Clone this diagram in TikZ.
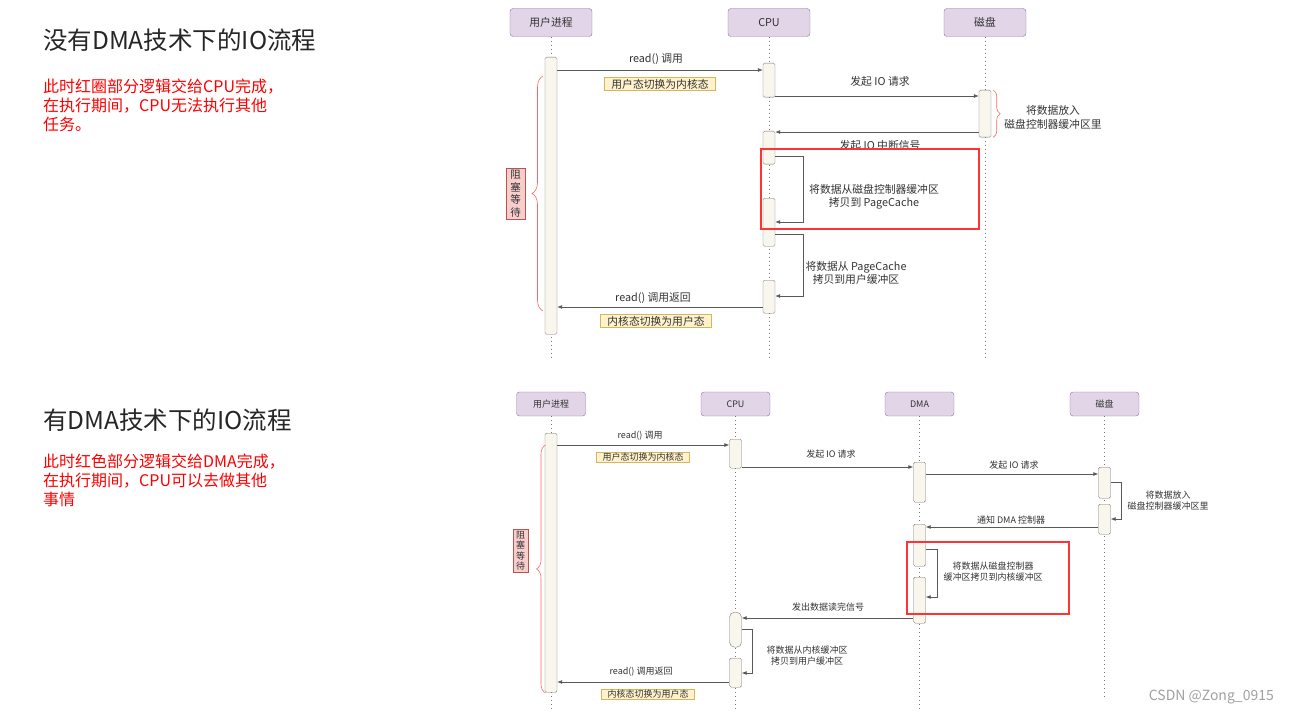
\documentclass[tikz,border=0pt]{standalone}
\usepackage{fontspec}
\setmainfont{Noto Sans CJK SC}
\usetikzlibrary{positioning, arrows.meta, decorations.pathreplacing}

\definecolor{hdrfill}{HTML}{E1D5E7}
\definecolor{hdrline}{HTML}{9673A6}
\definecolor{barfill}{HTML}{F9F7ED}
\definecolor{barline}{HTML}{777777}
\definecolor{notefill}{HTML}{FFF2CC}
\definecolor{noteline}{HTML}{D6B656}
\definecolor{waitfill}{HTML}{F8CECC}
\definecolor{waitline}{HTML}{B85450}
\definecolor{txt}{HTML}{333333}
\definecolor{hlred}{HTML}{FF3333}
\definecolor{bracered}{HTML}{FF6666}
\definecolor{markgray}{HTML}{A0A0A0}

\newcommand\diagA{\fontsize{10.8}{12.5}\selectfont}
\newcommand\diagB{\fontsize{9}{11}\selectfont}

\tikzset{
  hdr/.style={draw=hdrline, fill=hdrfill, rounded corners=3pt, text=txt,
              minimum width=82pt, minimum height=28pt, inner sep=0pt, font=\diagA},
  hdrB/.style={hdr, minimum width=69pt, minimum height=24pt, font=\diagB},
  actbar/.style={draw=barline, fill=barfill, rounded corners=1.5pt,
              minimum width=12pt, inner sep=0pt, anchor=north},
  life/.style={draw=barline, line width=1pt, dash pattern=on 1pt off 3pt},
  msg/.style={draw=black!65, line width=0.7pt, -{Latex[length=5pt,width=4pt]}},
  lbl/.style={text=txt, align=center, inner sep=0pt},
  note/.style={draw=noteline, fill=notefill, text=txt, inner xsep=7pt, inner ysep=1.5pt},
  wait/.style={draw=waitline, fill=waitfill, text=txt, align=center, inner xsep=4pt, inner ysep=2pt},
  redbrace/.style={draw=bracered, line width=0.6pt, decorate,
              decoration={brace, amplitude=#1}},
  hilite/.style={draw=hlred, line width=2.5pt},
  ttl/.style={anchor=west, inner sep=0pt, text=black!85, font=\fontsize{24.5}{28}\selectfont},
  remark/.style={anchor=north west, inner sep=0pt, align=left, text=red,
              font=\fontsize{16}{18.7}\selectfont},
}

\begin{document}
\begin{tikzpicture}[x=1pt, y=-1pt]
\useasboundingbox (0,0) rectangle (1289,714);

% left side texts
\node[ttl] (titleA) at (43,40) {没有DMA技术下的IO流程};
\node[remark] (remA) at (43,79) {此时红圈部分逻辑交给CPU完成，\\在执行期间，CPU无法执行其他\\任务。};
\node[ttl] (titleB) at (43,420) {有DMA技术下的IO流程};
\node[remark] (remB) at (43,454) {此时红色部分逻辑交给DMA完成，\\在执行期间，CPU可以去做其他\\事情};

% message rows
\foreach \n/\y in {rA/70,rB/96,rC/132,rD/156,rE/222,rF/234,rG/296,rH/307,endA/360,
                   sA/445,sB/467,sC/474,sD/482,sE/519,sF/527,sG/549,sH/597,
                   sI/618,sJ/629,sK/673,sL/682,endB/712,endC/700}
  \coordinate (\n) at (0,\y);

%% without DMA
\node[hdr] (huser) at (551,22.5) {用户进程};
\node[hdr] (hcpu) at (769,22.5) {CPU};
\node[hdr] (hdisk) at (985,22.5) {磁盘};
\foreach \h in {huser,hcpu,hdisk}
  \draw[life] (\h.south) -- (\h.south |- endA);

\node[actbar, minimum height=277pt] (ubar) at (551,57) {};
\node[actbar, minimum height=34pt] (cbarA) at (769,63) {};
\node[actbar, minimum height=47pt] (dbarA) at (985,90) {};
\node[actbar, minimum height=33pt] (cbarB) at (769,131) {};
\node[actbar, minimum height=48pt] (cbarC) at (769,198) {};
\node[actbar, minimum height=33pt] (cbarD) at (769,280) {};

\draw[msg] (ubar.east |- rA) -- (cbarA.west |- rA);
\node[lbl, font=\diagA] (tA) at (656,59) {read() 调用};
\node[note, font=\diagA] (nA) at (660,84) {用户态切换为内核态};

\draw[msg] (cbarA.east |- rB) -- (dbarA.west |- rB);
\node[lbl, font=\diagA] (tB) at (880,81) {发起 IO 请求};

\draw[redbrace=7pt] (dbarA.north east) ++(2,0) -- ([xshift=2pt]dbarA.south east);
\node[lbl, font=\fontsize{10.8}{14}\selectfont] (tDisk) at (1053,117) {将数据放入\\磁盘控制器缓冲区里};

\draw[msg] (dbarA.west |- rC) -- (cbarB.east |- rC);
\node[lbl, font=\diagA] (tC) at (880,145) {发起 IO 中断信号};

\draw[msg] (cbarB.east |- rD) -- ++(28,0) |- (cbarC.east |- rE);
\node[lbl, font=\diagA] (tD) at (874,197) {将数据从磁盘控制器缓冲区\\拷贝到 PageCache};

\draw[msg] (cbarC.east |- rF) -- ++(28,0) |- (cbarD.east |- rG);
\node[lbl, font=\diagA] (tE) at (856,273) {将数据从 PageCache\\拷贝到用户缓冲区};

\draw[msg] (cbarD.west |- rH) -- (ubar.east |- rH);
\node[lbl, font=\diagA] (tF) at (653,298) {read() 调用返回};
\node[note, font=\diagA] (nB) at (656,321) {内核态切换为用户态};

\draw[redbrace=11pt] (543,311) -- (543,76);
\node[wait, font=\fontsize{10.5}{12.5}\selectfont] (waitA) at (515.5,193.5) {阻\\塞\\等\\待};

\draw[hilite] (761,149) rectangle (979,229);

%% with DMA
\node[hdrB] (guser) at (551,404) {用户进程};
\node[hdrB] (gcpu) at (735.5,404) {CPU};
\node[hdrB] (gdma) at (919.5,404) {DMA};
\node[hdrB] (gdisk) at (1104.5,404) {磁盘};
\foreach \h in {guser,gcpu,gdma}
  \draw[life] (\h.south) -- (\h.south |- endB);
\draw[life] (gdisk.south) -- (gdisk.south |- endC);

\node[actbar, minimum height=259pt] (ubarB) at (551,433) {};
\node[actbar, minimum height=29pt] (cbarE) at (735.5,439) {};
\node[actbar, minimum height=40pt] (mbarA) at (919.5,462) {};
\node[actbar, minimum height=31pt] (kbarA) at (1104.5,467) {};
\node[actbar, minimum height=30pt] (kbarB) at (1104.5,504) {};
\node[actbar, minimum height=42pt] (mbarB) at (919.5,524) {};
\node[actbar, minimum height=46pt] (mbarC) at (919.5,577) {};
\node[actbar, minimum height=35pt, rounded corners=5pt] (cbarF) at (735.5,612) {};
\node[actbar, minimum height=29pt] (cbarG) at (735.5,658) {};

\draw[msg] (ubarB.east |- sA) -- (cbarE.west |- sA);
\node[lbl, font=\diagB] (uA) at (640,436) {read() 调用};
\node[note, font=\diagB, inner xsep=6pt, inner ysep=1pt] (nC) at (643,457) {用户态切换为内核态};

\draw[msg] (cbarE.east |- sB) -- (mbarA.west |- sB);
\node[lbl, font=\diagB] (uB) at (831,454) {发起 IO 请求};

\draw[msg] (mbarA.east |- sC) -- (kbarA.west |- sC);
\node[lbl, font=\diagB] (uC) at (1014,465) {发起 IO 请求};

\draw[msg] (kbarA.east |- sD) -- ++(11,0) |- (kbarB.east |- sE);
\node[lbl, font=\diagB] (uD) at (1168,501) {将数据放入\\磁盘控制器缓冲区里};

\draw[msg] (kbarB.west |- sF) -- (mbarB.east |- sF);
\node[lbl, font=\diagB] (uE) at (1011,520) {通知 DMA 控制器};

\draw[msg] (mbarB.east |- sG) -- ++(12,0) |- (mbarC.east |- sH);
\node[lbl, font=\diagB] (uF) at (993,572) {将数据从磁盘控制器\\缓冲区拷贝到内核缓冲区};

\draw[msg] (mbarC.west |- sI) -- (cbarF.east |- sI);
\node[lbl, font=\diagB] (uG) at (828,607) {发出数据读完信号};

\draw[msg] (cbarF.east |- sJ) -- ++(11,0) |- (cbarG.east |- sK);
\node[lbl, font=\diagB] (uH) at (807,656) {将数据从内核缓冲区\\拷贝到用户缓冲区};

\draw[msg] (cbarG.west |- sL) -- (ubarB.east |- sL);
\node[lbl, font=\diagB] (uI) at (641,672) {read() 调用返回};
\node[note, font=\diagB, inner xsep=6pt, inner ysep=1pt] (nD) at (648,694) {内核态切换为用户态};

\draw[redbrace=9pt] (545.5,693) -- (545.5,445);
\node[wait, font=\fontsize{9}{10.5}\selectfont, inner xsep=3pt, inner ysep=1.5pt] (waitB) at (520.5,550.5) {阻\\塞\\等\\待};

\draw[hilite] (907,542) rectangle (1069,614);

\node[text=markgray, font=\fontsize{14}{16}\selectfont, anchor=east, inner sep=0pt] (mark) at (1274,697) {CSDN @Zong\_0915};
\end{tikzpicture}
\end{document}
